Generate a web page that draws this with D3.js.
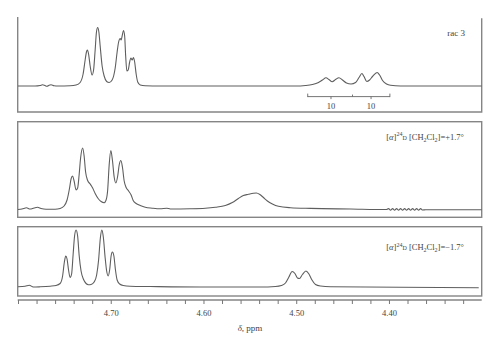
<!DOCTYPE html>
<html><head><meta charset="utf-8">
<script src="https://cdn.jsdelivr.net/npm/d3@7"></script>
<style>html,body{margin:0;padding:0;background:#fff;}svg{display:block;}</style>
</head><body>
<svg id="c" width="500" height="351"></svg>
<script>
// ---- DATA (chemical shift ppm, intensity a.u.) ----
const ppmDomain = [4.80, 4.30];
const tickLabels = ["4.70", "4.60", "4.50", "4.40"];
const axisLabel = "δ, ppm";

const spectrumRac = [
 [4.8000,0],[4.7816,0],[4.7762,0.5],[4.7735,1.2],[4.7708,0.4],[4.7687,-0.3],[4.7665,0.8],[4.7644,1.2],[4.7611,0.2],[4.7568,0],
 [4.7438,0.2],[4.7374,1],[4.7330,3.5],[4.7298,12],[4.7276,26],[4.7262,34],[4.7252,36],[4.7239,32],[4.7222,20],[4.7201,11],
 [4.7185,16],[4.7168,36],[4.7154,54],[4.7141,58.5],[4.7128,54],[4.7114,40],[4.7093,20],[4.7071,10],[4.7044,4.5],[4.7017,3.5],
 [4.6985,6],[4.6952,18],[4.6931,34],[4.6915,44],[4.6898,47.5],[4.6888,46],[4.6877,50],[4.6863,55.5],[4.6850,50],[4.6839,30],
 [4.6826,15],[4.6812,16],[4.6796,24],[4.6783,28],[4.6769,26],[4.6755,28.5],[4.6742,24],[4.6726,12],[4.6709,4],[4.6682,1],
 [4.6628,0.2],[4.6466,0],[4.5494,0],[4.5008,0],[4.4900,0.5],[4.4825,1.5],[4.4760,3.5],[4.4717,6],[4.4679,8.3],[4.4647,6.5],
 [4.4612,4.2],[4.4576,6.5],[4.4539,8.3],[4.4501,6],[4.4458,3],[4.4409,2],[4.4360,3.5],[4.4323,8.5],[4.4292,12.5],[4.4269,9.5],
 [4.4239,4.5],[4.4209,6],[4.4177,9.5],[4.4128,13.5],[4.4101,11],[4.4069,5.5],[4.4026,2],[4.3983,0.7],[4.3875,0],[4.3000,0]
];

const spectrumPlus = [
 [4.8000,0],[4.7957,0.5],[4.7908,1.7],[4.7870,0.5],[4.7827,1.5],[4.7789,2.2],[4.7752,1],[4.7698,0.2],[4.7600,0.2],[4.7546,1],
 [4.7503,3.5],[4.7471,9.5],[4.7444,21.5],[4.7428,30.5],[4.7411,33.5],[4.7395,28.5],[4.7374,19.5],[4.7357,21.5],[4.7341,34.5],[4.7325,51.5],
 [4.7303,61.5],[4.7287,53.5],[4.7271,37.5],[4.7249,29],[4.7222,25.5],[4.7195,21.5],[4.7168,16],[4.7136,11],[4.7104,8],[4.7071,6.8],
 [4.7050,9.5],[4.7033,19.5],[4.7017,44.5],[4.6999,59],[4.6982,49.5],[4.6963,32.5],[4.6945,26.5],[4.6925,33.5],[4.6909,44.5],[4.6891,49],
 [4.6874,42.5],[4.6855,28.5],[4.6834,22],[4.6807,18.5],[4.6780,14.5],[4.6758,9],[4.6726,6],[4.6682,4],[4.6628,2.2],[4.6553,1.3],
 [4.6466,0.7],[4.6396,1.3],[4.6358,0.5],[4.6142,0.7],[4.5980,1.2],[4.5872,2.2],[4.5764,4],[4.5689,7],[4.5624,11],[4.5570,14],
 [4.5516,15.2],[4.5462,16.3],[4.5430,16.5],[4.5392,15],[4.5354,12],[4.5311,8.5],[4.5257,5.5],[4.5192,3.2],[4.5062,1.8],[4.4846,1.1],
 [4.4414,0.5],[4.4026,0],[4.4004,0.9],[4.3983,-0.7],[4.3961,0.9],[4.3939,-0.7],[4.3918,0.9],[4.3896,-0.7],[4.3875,0.9],[4.3853,-0.7],
 [4.3831,0.9],[4.3810,-0.7],[4.3788,0.9],[4.3767,-0.7],[4.3745,0.9],[4.3723,-0.7],[4.3702,0.9],[4.3680,-0.7],[4.3659,0.9],[4.3637,-0.5],
 [4.3604,-0.2],[4.3000,-0.2]
];

const spectrumMinus = [
 [4.8000,0.3],[4.7924,0.7],[4.7878,1.7],[4.7835,0],[4.7762,0.2],[4.7654,0.8],[4.7590,1.5],[4.7546,3.5],[4.7519,11],[4.7500,25],
 [4.7485,31],[4.7471,28],[4.7455,17],[4.7438,9.5],[4.7422,13],[4.7406,32],[4.7390,51],[4.7374,57],[4.7357,51],[4.7341,32],
 [4.7320,16],[4.7293,7.5],[4.7266,3.5],[4.7241,2.2],[4.7212,2.5],[4.7179,5],[4.7152,12],[4.7131,27],[4.7112,49],[4.7096,57],
 [4.7080,50],[4.7060,29],[4.7044,16],[4.7028,11],[4.7012,17],[4.6996,31],[4.6982,35],[4.6966,31],[4.6949,17],[4.6931,7],
 [4.6904,3],[4.6866,1.5],[4.6790,0.8],[4.6574,0.5],[4.6034,0],[4.5386,0],[4.5224,0.5],[4.5160,1.5],[4.5116,4],[4.5079,10],
 [4.5044,15.5],[4.5014,13.5],[4.4987,9],[4.4965,8.5],[4.4933,12.5],[4.4895,16],[4.4863,13],[4.4830,7],[4.4792,2.5],[4.4738,1],
 [4.4630,0.2],[4.3875,-0.3],[4.3032,-0.7]
];

// coupling bracket in the rac panel (ppm)
const bracketEnds = [4.4876, 4.3990];
const bracketMid = [4.4393];
const bracketTicks = [4.4625, 4.4193];
const bracketLabels = ["10", "10"];

const panelLabels = ["rac 3", "+1.7°", "−1.7°"];

// ---- LAYOUT ----
const svg = d3.select("#c");
const L = 17.7, R = 481.7;
const x = d3.scaleLinear().domain(ppmDomain).range([18, 481.7]);
const frameColor = "#858585", lineColor = "#5e5e5e";
const serif = "'Liberation Serif','DejaVu Serif',serif";

const panels = [
  {data: spectrumRac, top: 17, bottom: 112, base: 86, open: true},
  {data: spectrumPlus, top: 121.7, bottom: 217.3, base: 209.5},
  {data: spectrumMinus, top: 226.7, bottom: 296, base: 287}
];

panels.forEach((p, i) => {
  const y = d3.scaleLinear().domain([0, 60]).range([p.base, p.base - 60]);
  p.y = y;
  if (p.open) {
    svg.append("path")
      .attr("d", `M${L},${p.top}V${p.bottom}H${R}V${p.top + 1.3}`)
      .attr("fill", "none").attr("stroke", frameColor).attr("stroke-width", 1.4);
  } else {
    svg.append("rect").attr("x", L).attr("y", p.top).attr("width", R - L).attr("height", p.bottom - p.top)
      .attr("fill", "none").attr("stroke", frameColor).attr("stroke-width", 1.4);
  }
  const line = d3.line().x(d => x(d[0])).y(d => y(d[1])).curve(d3.curveMonotoneX);
  svg.append("path").datum(p.data).attr("d", line)
    .attr("fill", "none").attr("stroke", lineColor).attr("stroke-width", 1.1);
});

// rac 3 label
svg.append("text").attr("x", 465).attr("y", 36).attr("text-anchor", "end")
  .attr("font-family", serif).attr("font-size", 9).attr("fill", "#444").text(panelLabels[0]);

// coupling bracket
{
  const by = 96.6;
  const g = svg.append("g").attr("stroke", "#666").attr("stroke-width", 0.9).attr("fill", "none");
  g.append("line").attr("x1", x(bracketEnds[0])).attr("x2", x(bracketEnds[1])).attr("y1", by).attr("y2", by);
  bracketEnds.forEach(v => g.append("line").attr("x1", x(v)).attr("x2", x(v)).attr("y1", by - 3).attr("y2", by + 0.5));
  bracketMid.forEach(v => g.append("line").attr("x1", x(v)).attr("x2", x(v)).attr("y1", by - 2).attr("y2", by));
  bracketTicks.forEach(v => g.append("line").attr("x1", x(v)).attr("x2", x(v)).attr("y1", by).attr("y2", by + 2.5));
  bracketTicks.forEach((v, k) => svg.append("text").attr("x", x(v)).attr("y", 109).attr("text-anchor", "middle")
    .attr("font-family", serif).attr("font-size", 8.5).attr("fill", "#444").text(bracketLabels[k]));
}

// optical rotation labels
function rotLabel(yPos, value) {
  const t = svg.append("text").attr("x", 464).attr("y", yPos).attr("text-anchor", "end")
    .attr("font-family", serif).attr("font-size", 8.5).attr("fill", "#444");
  t.append("tspan").text("[");
  t.append("tspan").attr("font-style", "italic").text("α");
  t.append("tspan").text("]");
  t.append("tspan").attr("font-size", 6).attr("dy", -3.5).text("24");
  t.append("tspan").attr("font-size", 6).attr("dy", 3.5).text("D");
  t.append("tspan").text(" [CH");
  t.append("tspan").attr("font-size", 6).attr("dy", 2).text("2");
  t.append("tspan").attr("dy", -2).text("Cl");
  t.append("tspan").attr("font-size", 6).attr("dy", 2).text("2");
  t.append("tspan").attr("dy", -2).text("]=" + value);
}
rotLabel(139.5, panelLabels[1]);
rotLabel(250, panelLabels[2]);

// x axis
const axisY = 300;
const ticks = d3.range(0, 25).map(k => +(4.80 - k * 0.02).toFixed(2));
const axis = d3.axisBottom(x).tickValues(ticks).tickSize(4).tickFormat(d => {
  const s = d.toFixed(2); return tickLabels.includes(s) ? s : "";
});
const ag = svg.append("g").attr("transform", `translate(0,${axisY})`).call(axis);
ag.select(".domain").attr("d", `M${L},0H${R}`).attr("stroke", frameColor).attr("stroke-width", 1.4);
ag.selectAll(".tick line").attr("stroke", "#777").attr("stroke-width", 1);
ag.selectAll(".tick text").attr("font-family", serif).attr("font-size", 8.5).attr("fill", "#444").attr("dy", "0.5em").attr("y", 12);

svg.append("text").attr("x", 250).attr("y", 331).attr("text-anchor", "middle")
  .attr("font-family", serif).attr("font-size", 9).attr("fill", "#444")
  .call(t => { t.append("tspan").attr("font-style", "italic").text("δ"); t.append("tspan").text(", ppm"); });
</script>
</body></html>
